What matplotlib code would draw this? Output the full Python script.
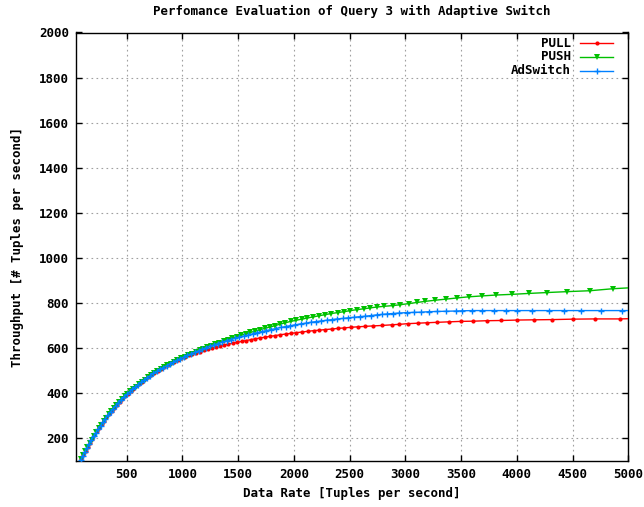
import matplotlib
matplotlib.use("Agg")
import matplotlib.pyplot as plt
from matplotlib.lines import Line2D

# ---- measured throughput vs. offered data rate ----
pull_x = [42, 92, 111, 130, 149, 169, 189, 210, 231, 252, 274, 296, 318, 341, 364, 387, 411, 435, 459,
          484, 509, 534, 560, 586, 612, 639, 666, 693, 721, 749, 778, 807, 836, 866, 896, 927, 958,
          990, 1022, 1055, 1088, 1122, 1156, 1191, 1226, 1262, 1298, 1335, 1373, 1411, 1450, 1490,
          1530, 1571, 1613, 1655, 1698, 1742, 1787, 1833, 1879, 1926, 1974, 2023, 2073, 2124, 2176,
          2229, 2283, 2338, 2394, 2451, 2512, 2575, 2640, 2710, 2791, 2881, 2947, 3021, 3111, 3196,
          3286, 3390, 3495, 3609, 3728, 3860, 4004, 4153, 4319, 4504, 4701, 4926, 5160]
pull_y = [60, 110, 128, 146, 163, 181, 198, 215, 231, 247, 263, 279, 294, 309, 323, 337, 350, 363, 375,
          387, 399, 410, 421, 431, 442, 452, 462, 472, 481, 491, 500, 509, 517, 525, 533, 541, 548,
          555, 562, 568, 574, 580, 585, 590, 595, 600, 605, 609, 614, 618, 622, 626,
          630, 634, 638, 642, 646, 649, 653, 656, 660, 663, 666, 669, 672, 675, 678,
          680, 683, 685, 688, 690, 693, 695, 697, 699, 701, 704, 706, 709, 711, 713,
          715, 717, 719, 720, 722, 723, 725, 726, 727, 729, 730, 730, 733]

push_x = [42, 90, 108, 127, 146, 166, 186, 207, 228, 249, 271, 293, 315, 338, 361, 384, 408, 432, 456,
          481, 506, 531, 557, 583, 609, 636, 663, 690, 718, 746, 775, 804, 833, 863, 893, 924, 955,
          987, 1019, 1052, 1085, 1119, 1153, 1188, 1223, 1259, 1295, 1332, 1370, 1408, 1447, 1487,
          1527, 1568, 1610, 1652, 1695, 1739, 1784, 1830, 1876, 1923, 1971, 2020, 2070, 2121, 2173,
          2226, 2280, 2335, 2391, 2448, 2506, 2565, 2625, 2686, 2748, 2812, 2885, 2955, 3030, 3105,
          3180, 3270, 3368, 3464, 3568, 3688, 3817, 3958, 4107, 4272, 4452, 4655, 4865, 5090]
push_y = [60, 108, 125, 143, 160, 178, 195, 212, 229, 245, 261, 277, 292, 307, 322, 335, 349, 362, 374,
          386, 398, 409, 420, 430, 441, 451, 461, 471, 480, 490, 499, 508, 516, 524, 532, 540, 548,
          555, 562, 569, 576, 583, 590, 597, 604, 611, 618, 625, 632, 638, 645, 652,
          658, 664, 670, 676, 682, 688, 694, 700, 707, 713, 719, 724, 729, 734, 739,
          744, 749, 754, 758, 762, 767, 771, 775, 779, 783, 786, 789, 793, 798, 803,
          808, 813, 818, 823, 828, 832, 836, 839, 843, 847, 851, 855, 864, 870]

ad_x = [42, 88, 106, 124, 143, 162, 182, 202, 223, 244, 265, 287, 309, 332, 355, 378, 402, 426, 450,
        475, 500, 525, 551, 577, 603, 630, 657, 684, 712, 740, 769, 798, 827, 857, 887, 918, 949,
        981, 1013, 1045, 1078, 1111, 1145, 1179, 1214, 1249, 1285, 1321, 1358, 1395, 1433, 1471,
        1510, 1549, 1589, 1629, 1670, 1711, 1753, 1795, 1838, 1881, 1925, 1969, 2014, 2059, 2105,
        2151, 2198, 2245, 2293, 2341, 2390, 2439, 2489, 2539, 2590, 2641, 2693, 2745, 2791, 2836,
        2886, 2940, 3016, 3075, 3144, 3210, 3285, 3360, 3450, 3510, 3600, 3690, 3794, 3899, 4004,
        4139, 4288, 4423, 4573, 4753, 4939, 5150]
ad_y = [60, 106, 124, 141, 158, 175, 192, 209, 225, 241, 257, 273, 288, 303, 318, 332, 346, 359, 371,
        383, 395, 406, 418, 428, 439, 449, 459, 469, 478, 488, 497, 506, 514, 522, 530, 538, 546,
        553, 561, 568, 575, 582, 589, 596, 602, 609, 615, 621, 627, 633, 638, 644,
        649, 654, 659, 664, 669, 674, 678, 683, 687, 692, 696, 700, 704, 708, 711,
        715, 718, 721, 724, 727, 730, 732, 735, 737, 740, 742, 745, 748, 750, 752,
        754, 756, 758, 759, 760, 762, 763, 764, 765, 766, 767, 767, 767, 767, 767,
        767, 767, 767, 767, 767, 767, 767]

x_ticks = [500, 1000, 1500, 2000, 2500, 3000, 3500, 4000, 4500, 5000]
y_ticks = [200, 400, 600, 800, 1000, 1200, 1400, 1600, 1800, 2000]

series = [
    ("PULL", pull_x, pull_y, "#ff0000", "o", 3.0, 0.0),
    ("PUSH", push_x, push_y, "#00c000", "v", 4.6, 0.0),
    ("AdSwitch", ad_x, ad_y, "#0080ff", "+", 4.6, 1.0),
]

W, H = 644, 507
fig = plt.figure(figsize=(W / 100, H / 100), dpi=100)
fig.patch.set_facecolor("white")

L, R, T, B = 75.7, 628.3, 32.5, 461.0
ax = fig.add_axes([L / W, 1 - B / H, (R - L) / W, (B - T) / H])

FONT = dict(family="DejaVu Sans Mono", weight="bold", size=9)

for name, xs, ys, col, mk, ms, mew in series:
    ax.plot(xs, ys, color=col, lw=1.0, marker=mk, ms=ms, mew=mew,
            mfc=col, mec=col, zorder=3)

ax.set_xlim(42, 5000)
ax.set_ylim(100, 2000)
ax.set_xticks(x_ticks)
ax.set_yticks(y_ticks)
ax.set_xticklabels([str(v) for v in x_ticks], **FONT)
ax.set_yticklabels([str(v) for v in y_ticks], **FONT)
ax.tick_params(direction="in", length=4, width=1, top=True, right=True,
               colors="black", pad=5)
for lbl in ax.get_xticklabels():
    lbl.set_clip_on(False)

ax.grid(True, color="#a0a0a0", lw=0.8, linestyle=(0, (1.5, 3)), zorder=0)
ax.set_axisbelow(True)
for sp in ax.spines.values():
    sp.set_color("black")
    sp.set_linewidth(1.0)

# titles and axis labels
fig.text(352 / W, 1 - 11 / H, "Perfomance Evaluation of Query 3 with Adaptive Switch",
         ha="center", va="center", **FONT)
fig.text(352 / W, 1 - 494 / H, "Data Rate [Tuples per second]",
         ha="center", va="center", **FONT)
fig.text(18 / W, 1 - 247 / H, "Throughput [# Tuples per second]",
         ha="center", va="center", rotation=90, **FONT)

# key in the upper right, gnuplot style (text then sample)
rows_y = [43.3, 56.7, 70.7]
for (name, xs, ys, col, mk, ms, mew), ry in zip(series, rows_y):
    fig.text(571 / W, 1 - ry / H, name, ha="right", va="center", **FONT)
    fig.add_artist(Line2D([580 / W, 613 / W], [1 - ry / H, 1 - ry / H],
                          transform=fig.transFigure, color=col, lw=1.0))
    fig.add_artist(Line2D([596.5 / W], [1 - ry / H], transform=fig.transFigure,
                          color=col, marker=mk, ms=ms, mew=mew, mfc=col, mec=col,
                          linestyle="none"))

fig.savefig("out.png", dpi=100)
